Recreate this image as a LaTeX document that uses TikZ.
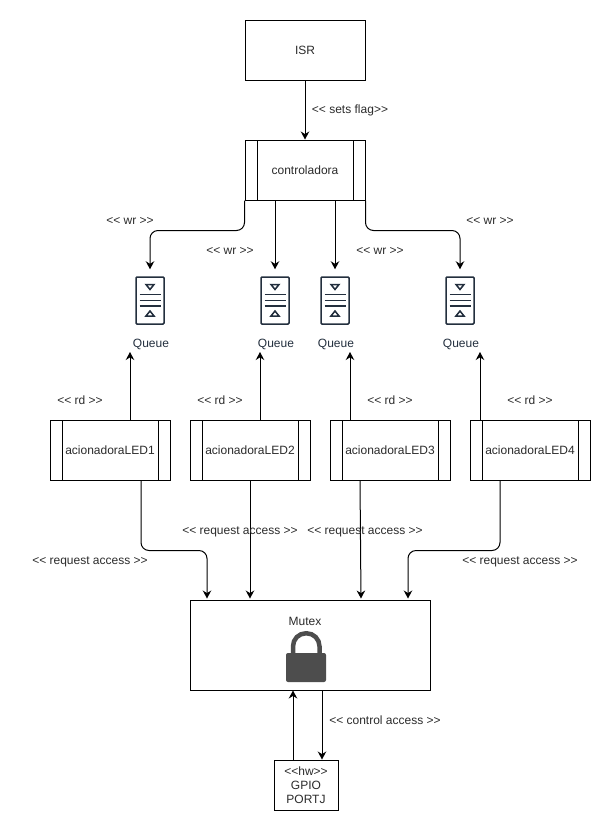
\documentclass[tikz,border=0pt]{standalone}
\usepackage{fontspec}
\setmainfont[Ligatures=TeXOff]{Liberation Sans}
\usetikzlibrary{arrows.meta}
\definecolor{queuecolor}{HTML}{232F3E}
\definecolor{textcolor}{HTML}{2B2B2B}
\definecolor{lockcolor}{HTML}{4D4D4D}
\tikzset{
  flow/.style={draw=black,line width=1pt,-{Stealth[length=8pt,width=8.5pt]}},
  elbow/.style={rounded corners=8pt},
  plainbox/.style={draw=black,line width=1pt,fill=white,minimum width=120pt,minimum height=60pt},
  procbox/.style={plainbox,path picture={
    \draw[line width=1pt] ([xshift=12pt]path picture bounding box.north west) -- ([xshift=12pt]path picture bounding box.south west);
    \draw[line width=1pt] ([xshift=-12pt]path picture bounding box.north east) -- ([xshift=-12pt]path picture bounding box.south east);}},
  queuebox/.style={draw=queuecolor,line width=1.5pt,rounded corners=1pt,minimum width=28pt,minimum height=47pt},
  qtext/.style={text=queuecolor}
}
\begin{document}
\begin{tikzpicture}
  [x=1pt,y=-1pt,every node/.style={font=\fontsize{12pt}{14pt}\selectfont,text=textcolor,inner sep=0pt}]
  \useasboundingbox (0,0) rectangle (611,831);

  \node[plainbox] (isr) at (305,50) {ISR};
  \node[procbox] (ctrl) at (305,170) {controladora};
  \node[plainbox,minimum width=240pt,minimum height=90pt] (mutex) at (310,645) {};
  \node (mutextext) at (305,621.5) {Mutex};
  \node[plainbox,minimum width=64pt,minimum height=50pt,align=center] (gpio) at (306,785)
    {<<hw>>\\GPIO\\PORTJ};

  \foreach \n/\x in {1/110,2/250,3/390,4/530}
    \node[procbox] (led\n) at (\x,450) {acionadoraLED\n};

  \foreach \n/\x in {1/150,2/275,3/335,4/460} {
    \node[queuebox] (q\n) at (\x,300.5) {};
    \node[qtext] (qt\n) at (\x+1,344.5) {Queue};
    \draw[queuecolor,line width=1.5pt] (\x-4,284.5) -- (\x+4,284.5) -- (\x,289.5) -- cycle;
    \draw[queuecolor,line width=1.5pt] (\x-4,316) -- (\x+4,316) -- (\x,311) -- cycle;
    \foreach \y in {294.5,300.5,306}
      \draw[queuecolor,line width=1.5pt] (\x-10.5,\y) -- (\x+10.5,\y);
  }

  \fill[lockcolor,rounded corners=2pt] (286,653) rectangle (326,682);
  \draw[lockcolor,line width=4.5pt,rounded corners=13pt] (293,655) -- (293,633.25) -- (319.5,633.25) -- (319.5,655);

  \draw[flow] (isr) -- (ctrl);
  \draw[flow,elbow,shorten >=7pt] (ctrl.south west) -- ++(0,30) -| (q1.north);
  \draw[flow,shorten >=7pt] (q2.north |- ctrl.south) -- (q2.north);
  \draw[flow,shorten >=7pt] (q3.north |- ctrl.south) -- (q3.north);
  \draw[flow,elbow,shorten >=7pt] (ctrl.south east) -- ++(0,30) -| (q4.north);

  \foreach \n/\x in {1/130,2/260,3/350,4/480} {
    \coordinate (up\n) at (\x,352);
    \draw[flow] (up\n |- led\n.north) -- (up\n);
  }

  \draw[flow,elbow,shorten >=1pt] ([xshift=31pt]led1.south) -- ++(0,70) -| ([xshift=-103pt]mutex.north);
  \draw[flow,shorten >=1pt] (led2.south) -- ([xshift=-60pt]mutex.north);
  \draw[flow,shorten >=1pt] ([xshift=-30pt]led3.south) -- ([xshift=51pt]mutex.north);
  \draw[flow,elbow,shorten >=1pt] ([xshift=-30pt]led4.south) -- ++(0,70) -| ([xshift=98pt]mutex.north);

  \draw[flow] ([xshift=-13pt]gpio.north) -- ([xshift=-13pt]gpio.north |- mutex.south);
  \draw[flow] ([xshift=16pt]gpio.north |- mutex.south) -- ([xshift=16pt]gpio.north);

  \node (flag) at (350,110.5) {<< sets flag>>};
  \foreach \n/\x/\y in {1/130/220.5,2/230/250.5,3/380/250.5,4/490/220.5}
    \node (wr\n) at (\x,\y) {<< wr >>};
  \foreach \n/\x in {1/80,2/220,3/390,4/530}
    \node (rd\n) at (\x,400.5) {<< rd >>};
  \foreach \n/\x/\y in {1/90/561.5,2/240/531.5,3/365/531.5,4/520/561.5}
    \node (req\n) at (\x,\y) {<< request access >>};
  \node (ctl) at (385,720.5) {<< control access >>};
\end{tikzpicture}
\end{document}
